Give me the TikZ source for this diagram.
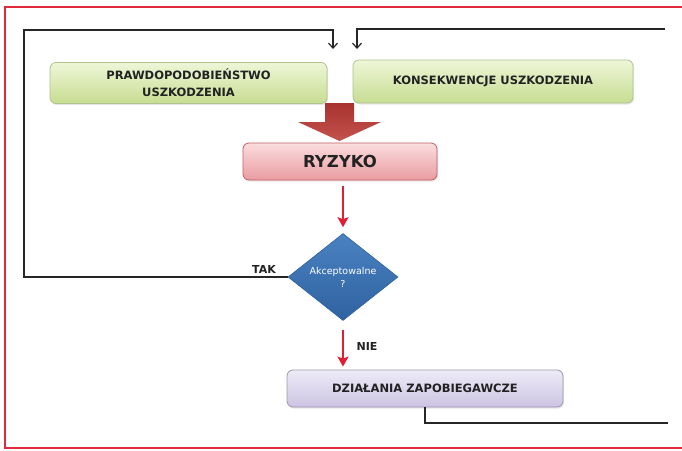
\documentclass[tikz,border=0pt]{standalone}
\usepackage{fontspec}
\setmainfont{DejaVu Sans}
\usetikzlibrary{shapes.geometric,arrows.meta,shadows}
\definecolor{frameRed}{HTML}{E2283C}
\definecolor{greenTop}{HTML}{EFF6D8}
\definecolor{greenBot}{HTML}{C6DD91}
\definecolor{greenEdge}{HTML}{AFC38E}
\definecolor{pinkTop}{HTML}{FBDDDE}
\definecolor{pinkBot}{HTML}{E99CA2}
\definecolor{pinkEdge}{HTML}{C35F63}
\definecolor{lavTop}{HTML}{EEEBF7}
\definecolor{lavBot}{HTML}{CBC3E2}
\definecolor{lavEdge}{HTML}{9C99AE}
\definecolor{blueTop}{HTML}{4A82C2}
\definecolor{blueBot}{HTML}{2F62A0}
\definecolor{bigTop}{HTML}{A8332F}
\definecolor{bigBot}{HTML}{C4524D}
\definecolor{arrRed}{HTML}{E01E36}
\definecolor{txt}{HTML}{222222}
\begin{document}
\begin{tikzpicture}[x=1pt,y=-1pt,
  boxbase/.style={rectangle, rounded corners=6pt, line width=0.8pt, text=txt,
    font=\bfseries\fontsize{11.5}{17}\selectfont, align=center, inner sep=0pt,
    drop shadow={shadow xshift=1pt, shadow yshift=-1.5pt, opacity=0.2}},
  greenbox/.style={boxbase, draw=greenEdge, top color=greenTop, bottom color=greenBot},
  pinkbox/.style={boxbase, draw=pinkEdge, top color=pinkTop, bottom color=pinkBot},
  lavbox/.style={boxbase, draw=lavEdge, top color=lavTop, bottom color=lavBot},
  decision/.style={diamond, inner sep=0pt, minimum width=110pt, minimum height=87pt,
    draw=blueBot, line width=0.6pt, top color=blueTop, bottom color=blueBot,
    text=white, font=\fontsize{9.5}{13}\selectfont, align=center},
  lbl/.style={font=\bfseries\fontsize{11}{13}\selectfont, text=txt, inner sep=0pt},
  fb/.style={draw=black!85, line width=1.1pt},
  fbarrow/.style={fb, -{Straight Barb[length=5pt,width=9pt,line width=1.2pt]}},
  redarr/.style={draw=arrRed, line width=2.2pt, -{Stealth[length=10pt,width=11pt,inset=2pt]}}
]
\useasboundingbox (0,0) rectangle (682,450);
\fill[white] (0,0) rectangle (682,450);

% red frame
\draw[frameRed, line width=2.6pt] (682,7) -- (5,7) -- (5,448) -- (682,448);

% nodes
\node[greenbox, minimum width=277pt, minimum height=41pt] (prob) at (188.5,83)
  {PRAWDOPODOBIEŃSTWO\\USZKODZENIA};
\node[greenbox, minimum width=280pt, minimum height=43pt] (kons) at (493,81.5)
  {KONSEKWENCJE USZKODZENIA};
\node[pinkbox, minimum width=194pt, minimum height=37pt,
  font=\bfseries\fontsize{16.5}{20}\selectfont] (ryz) at (340,161.5) {RYZYKO};
\node[decision] (dia) at (343,277) {Akceptowalne\\?};
\node[lavbox, minimum width=276pt, minimum height=37pt] (dzi) at (425,388.5)
  {DZIAŁANIA ZAPOBIEGAWCZE};

% big block arrow
\shade[top color=bigTop, bottom color=bigBot]
  (325,103) -- (354,103) -- (354,122) -- (381,122) -- (339.5,141)
  -- (298,122) -- (325,122) -- cycle;

% red arrows
\draw[redarr, shorten <=6pt, shorten >=6pt] (ryz.south -| dia.north) -- (dia.north);
\draw[redarr, shorten <=9pt, shorten >=3pt] (dia.south) -- (dia.south |- dzi.north);
\node[lbl] (nie) at (367,346) {NIE};
\node[lbl] (tak) at (264,269) {TAK};

% feedback loops
\coordinate (lc) at (24,30);
\coordinate (la) at (333,49);
\coordinate (rt) at (665,29);
\coordinate (ra) at (357,49);
\coordinate (rb) at (425,423);
\coordinate (re) at (668,423);
\draw[fbarrow] (dia.west) -| (lc) -| (la);
\draw[fbarrow] (rt) -| (ra);
\draw[fb] (dzi.south) -- (rb) -- (re);
\end{tikzpicture}
\end{document}
